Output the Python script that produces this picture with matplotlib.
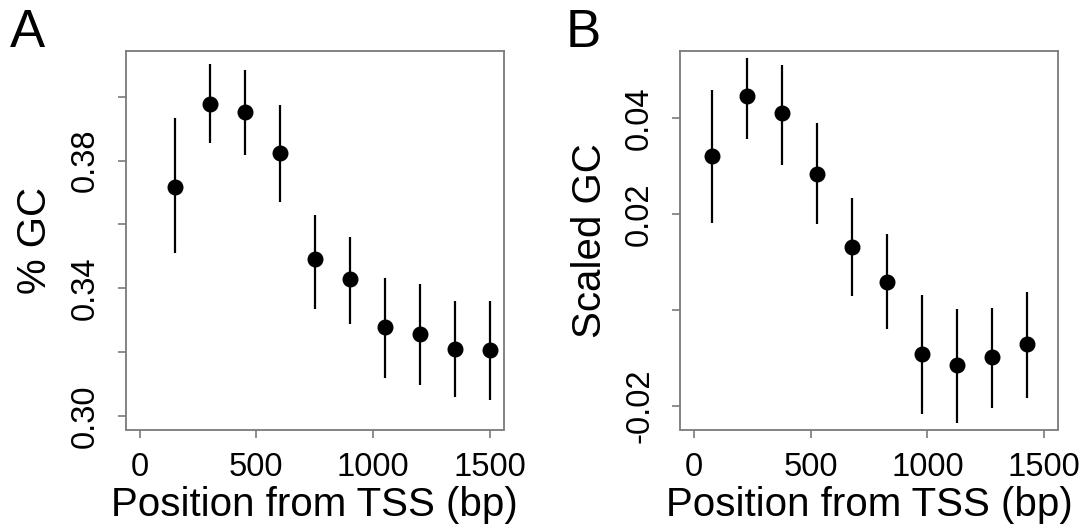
import numpy as np
import matplotlib
matplotlib.use("Agg")
import matplotlib.pyplot as plt

plt.rcParams['font.family'] = ['Liberation Sans', 'DejaVu Sans']

# panel A: raw GC fraction
pos_a = [150, 300, 450, 600, 750, 900, 1050, 1200, 1350, 1500]
gc_a = [0.3716, 0.3978, 0.3952, 0.3824, 0.3493, 0.3429, 0.3280, 0.3256, 0.3209, 0.3207]
gc_a_hi = [0.3933, 0.4103, 0.4083, 0.3976, 0.3630, 0.3561, 0.3433, 0.3414, 0.3361, 0.3361]
gc_a_lo = [0.3511, 0.3856, 0.3817, 0.3671, 0.3335, 0.3289, 0.3117, 0.3095, 0.3059, 0.3048]

# panel B: scaled GC
pos_b = [75, 225, 375, 525, 675, 825, 975, 1125, 1275, 1425]
gc_b = [0.0320, 0.0445, 0.0410, 0.0283, 0.0131, 0.0059, -0.0092, -0.0114, -0.0099, -0.0071]
gc_b_hi = [0.0458, 0.0524, 0.0510, 0.0389, 0.0234, 0.0158, 0.0032, 0.0001, 0.0004, 0.0037]
gc_b_lo = [0.0180, 0.0355, 0.0302, 0.0179, 0.0029, -0.0040, -0.0217, -0.0235, -0.0205, -0.0183]

xticks = [0, 500, 1000, 1500]
yticks_a = [0.30, 0.32, 0.34, 0.36, 0.38, 0.40]
ylabels_a = ['0.30', '', '0.34', '', '0.38', '']
yticks_b = [-0.02, 0.00, 0.02, 0.04]
ylabels_b = ['-0.02', '', '0.02', '0.04']

W, H = 1086, 532
fig = plt.figure(figsize=(W / 100, H / 100), dpi=100)

box_col = '#7a7a7a'


def panel(rect, x, y, lo, hi, ylim, yticks, ylabels, ylabel):
    ax = fig.add_axes(rect)
    ax.vlines(x, lo, hi, color='black', lw=1.6)
    ax.plot(x, y, 'o', color='black', ms=10.5, zorder=3)
    ax.set_xlim(-60, 1560)
    ax.set_ylim(*ylim)
    ax.set_xticks(xticks)
    ax.set_yticks(yticks)
    ax.set_yticklabels(ylabels, rotation=90, va='center')
    ax.tick_params(axis='both', colors=box_col, labelcolor='black', labelsize=23.5,
                   length=6, width=1.2)
    ax.tick_params(axis='x', pad=10)
    ax.tick_params(axis='y', pad=12)
    for sp in ax.spines.values():
        sp.set_color(box_col)
        sp.set_linewidth(1.3)
    ax.set_xlabel('Position from TSS (bp)', fontsize=29, labelpad=2)
    ax.set_ylabel(ylabel, fontsize=29, labelpad=11)
    return ax


def rect_px(l, r, t, b):
    return [l / W, 1 - b / H, (r - l) / W, (b - t) / H]


panel(rect_px(125.7, 503.7, 51, 429.5), pos_a, gc_a, gc_a_lo, gc_a_hi,
      (0.2957, 0.4144), yticks_a, ylabels_a, '% GC')
panel(rect_px(680.1, 1058.0, 51, 429.5), pos_b, gc_b, gc_b_lo, gc_b_hi,
      (-0.0249, 0.0539), yticks_b, ylabels_b, 'Scaled GC')

fig.text(10 / W, 1 - 8 / H, 'A', fontsize=38, va='top', ha='left')
fig.text(566 / W, 1 - 8 / H, 'B', fontsize=38, va='top', ha='left')

fig.savefig('out.png', dpi=100)
